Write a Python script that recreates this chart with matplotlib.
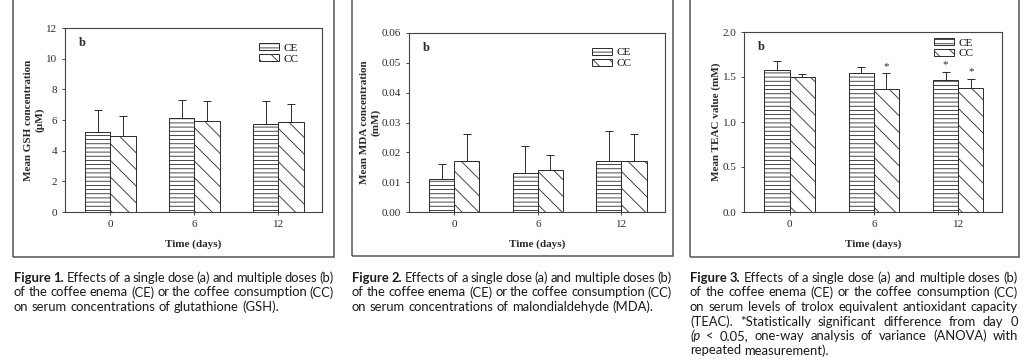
import numpy as np
import matplotlib
matplotlib.use("Agg")
import matplotlib.pyplot as plt
from matplotlib.patches import Rectangle

# data
days = ["0", "6", "12"]

gsh_ce = [5.22, 6.13, 5.74]
gsh_ce_err = [1.41, 1.20, 1.50]
gsh_cc = [4.98, 5.93, 5.85]
gsh_cc_err = [1.30, 1.29, 1.19]

mda_ce = [0.011, 0.013, 0.017]
mda_ce_err = [0.005, 0.009, 0.010]
mda_cc = [0.017, 0.014, 0.017]
mda_cc_err = [0.009, 0.005, 0.009]

teac_ce = [1.58, 1.55, 1.47]
teac_ce_err = [0.10, 0.06, 0.09]
teac_cc = [1.50, 1.37, 1.38]
teac_cc_err = [0.03, 0.17, 0.10]
teac_ce_star = [False, False, True]
teac_cc_star = [False, True, True]

captions = [
    ["Figure 1. Effects of a single dose (a) and multiple doses (b)",
     "of the coffee enema (CE) or the coffee consumption (CC)",
     "on serum concentrations of glutathione (GSH)."],
    ["Figure 2. Effects of a single dose (a) and multiple doses (b)",
     "of the coffee enema (CE) or the coffee consumption (CC)",
     "on serum concentrations of malondialdehyde (MDA)."],
    ["Figure 3. Effects of a single dose (a) and multiple doses (b)",
     "of the coffee enema (CE) or the coffee consumption (CC)",
     "on serum levels of trolox equivalent antioxidant capacity",
     "(TEAC). *Statistically significant difference from day 0",
     "(p < 0.05, one-way analysis of variance (ANOVA) with",
     "repeated measurement)."],
]

W, H = 1024, 363
INK = "#2a2a2a"

plt.rcParams["font.family"] = ["Liberation Serif", "DejaVu Serif"]
plt.rcParams["hatch.linewidth"] = 0.6
plt.rcParams["hatch.color"] = INK
plt.rcParams["axes.edgecolor"] = "#444444"
plt.rcParams["xtick.color"] = "#444444"
plt.rcParams["ytick.color"] = "#444444"

fig = plt.figure(figsize=(W / 100, H / 100), dpi=100)


def px_axes(l, r, t, b):
    return fig.add_axes([l / W, 1 - b / H, (r - l) / W, (b - t) / H])


def draw_panel(ax, ce, ce_err, cc, cc_err, ylim, yticks, fmt, ylabel, leg_at):
    x = np.arange(len(days))
    bw = 0.3
    ax.bar(x - bw / 2, ce, bw, color="white", edgecolor=INK, hatch="----",
           linewidth=0.7, label="CE", zorder=2)
    ax.bar(x + bw / 2, cc, bw, color="white", edgecolor=INK, hatch="\\\\",
           linewidth=0.7, label="CC", zorder=2)
    ax.errorbar(x - bw / 2, ce, yerr=[np.zeros(3), ce_err], fmt="none",
                ecolor=INK, elinewidth=0.7, capsize=3, capthick=0.7, zorder=1)
    ax.errorbar(x + bw / 2, cc, yerr=[np.zeros(3), cc_err], fmt="none",
                ecolor=INK, elinewidth=0.7, capsize=3, capthick=0.7, zorder=1)
    ax.set_xlim(-0.54, 2.52)
    ax.set_ylim(*ylim)
    ax.set_xticks(x)
    ax.set_xticklabels(days)
    ax.set_yticks(yticks)
    ax.set_yticklabels([fmt.format(v) for v in yticks])
    ax.tick_params(labelsize=8, length=2.5, width=0.7, pad=3, labelcolor=INK)
    for s in ax.spines.values():
        s.set_linewidth(0.8)
    ax.set_xlabel("Time (days)", fontsize=8, weight="bold", color=INK, labelpad=8)
    ax.set_ylabel(ylabel, fontsize=8, weight="bold", color=INK, labelpad=1,
                  linespacing=1.25)
    ax.text(0.055, 0.95, "b", transform=ax.transAxes, fontsize=9,
            weight="bold", va="top", color=INK)
    ax.legend(loc="upper right", bbox_to_anchor=leg_at, frameon=False,
              fontsize=8, handlelength=1.8, handleheight=0.55,
              handletextpad=0.4, labelspacing=0.15, borderaxespad=0)


ax1 = px_axes(65, 322, 28, 212)
draw_panel(ax1, gsh_ce, gsh_ce_err, gsh_cc, gsh_cc_err, (0, 12),
           [0, 2, 4, 6, 8, 10, 12], "{:.0f}", "Mean GSH concentration\n(\u00b5M)",
           (0.925, 0.94))

ax2 = px_axes(409, 665, 33, 212)
draw_panel(ax2, mda_ce, mda_ce_err, mda_cc, mda_cc_err, (0, 0.06),
           [0, 0.01, 0.02, 0.03, 0.04, 0.05, 0.06], "{:.2f}",
           "Mean MDA concentration\n(mM)", (0.885, 0.94))

ax3 = px_axes(744, 1002, 32, 212)
draw_panel(ax3, teac_ce, teac_ce_err, teac_cc, teac_cc_err, (0, 2.0),
           [0, 0.5, 1.0, 1.5, 2.0], "{:.1f}", "Mean TEAC value (mM)",
           (0.905, 0.99))
xs = np.arange(len(days))
for i in range(len(days)):
    if teac_ce_star[i]:
        ax3.text(xs[i] - 0.15, teac_ce[i] + teac_ce_err[i] + 0.03, "*",
                 ha="center", va="bottom", fontsize=8, color=INK)
    if teac_cc_star[i]:
        ax3.text(xs[i] + 0.15, teac_cc[i] + teac_cc_err[i] + 0.03, "*",
                 ha="center", va="bottom", fontsize=8, color=INK)

# panel frames (top edge runs off the picture)
for l, r, b in [(13, 334, 257), (352, 673, 256), (690, 1019, 257)]:
    fig.add_artist(Rectangle((l / W, 1 - b / H), (r - l) / W, 1.2,
                             transform=fig.transFigure, fill=False,
                             edgecolor="#555555", linewidth=1.1))


def caption(x0, x1, y0, lines, step=14.5, size=9.4):
    rend = fig.canvas.get_renderer()
    probe = fig.text(0, 0, "a a", fontsize=size, family="Lato")
    probe2 = fig.text(0, 0, "aa", fontsize=size, family="Lato")
    space = probe.get_window_extent(rend).width - probe2.get_window_extent(rend).width
    probe.remove()
    probe2.remove()
    for i, line in enumerate(lines):
        words = line.split()
        y = 1 - (y0 + i * step) / H
        arts = []
        for j, w in enumerate(words):
            bold = i == 0 and j < 2
            style = "italic" if w == "(p" else "normal"
            t = fig.text(0, y, w, fontsize=size, family="Lato", color="#1a1a1a",
                         weight="bold" if bold else "normal", style=style,
                         va="center")
            arts.append(t)
        widths = [t.get_window_extent(rend).width for t in arts]
        if i == len(lines) - 1:
            gap = space
        else:
            gap = (x1 - x0 - sum(widths)) / (len(words) - 1)
        x = x0
        for t, w in zip(arts, widths):
            t.set_x(x / W)
            x += w + gap


caption(14, 334, 278, captions[0])
caption(352, 672, 278, captions[1])
caption(690, 1018, 278, captions[2])

fig.savefig("out.png", dpi=100)
